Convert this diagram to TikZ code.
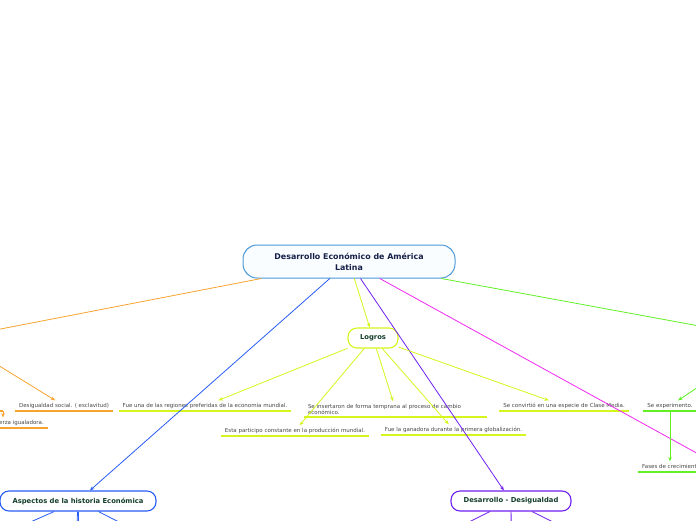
\documentclass[tikz,border=0pt]{standalone}
\usepackage{fontspec}
\setmainfont{DejaVu Sans}
\usetikzlibrary{arrows.meta,positioning}
\definecolor{naranja}{RGB}{247,163,48}
\definecolor{azul}{RGB}{40,92,245}
\definecolor{amarillo}{RGB}{214,245,28}
\definecolor{morado}{RGB}{112,32,240}
\definecolor{magenta}{RGB}{240,40,240}
\definecolor{verde}{RGB}{96,240,36}
\definecolor{azulc}{RGB}{74,152,216}
\definecolor{fondoc}{RGB}{250,253,255}
\definecolor{marino}{RGB}{22,32,72}
\definecolor{verdeosc}{RGB}{20,62,44}
\definecolor{gristxt}{RGB}{70,70,70}
\begin{document}
\begin{tikzpicture}[x=1pt, y=-1pt, >={Stealth[length=4.5pt,width=3.5pt]},
  tema/.style={draw, rounded corners=9pt, minimum height=20pt, line width=1.1pt, fill=white,
    font=\fontsize{6.8}{8}\selectfont\bfseries, text=verdeosc},
  hoja/.style={inner xsep=4pt, inner ysep=2.5pt, text height=4.1pt, text depth=1.3pt,
    font=\fontsize{5.5}{6}\selectfont, text=gristxt},
  rama/.style={line width=0.8pt},
  subr/.style={line width=2pt}]
  \useasboundingbox (0,0) rectangle (696,520);

  % nodo central
  \node[draw=azulc, fill=fondoc, line width=1pt, rounded corners=14pt, minimum width=212pt,
    minimum height=33pt, align=center, font=\fontsize{7.9}{11}\selectfont\bfseries, text=marino]
    (central) at (349,261.5) {Desarrollo Económico de América\\Latina};

  % temas principales
  \node[tema, draw=amarillo, minimum width=50pt] (logros) at (373,338) {Logros};
  \node[tema, draw=azul, minimum width=156pt] (aspectos) at (78,501) {Aspectos de la historia Económica};
  \node[tema, draw=morado, minimum width=120pt] (desdes) at (511,501) {Desarrollo - Desigualdad};

  % ramas fuera de la pagina
  \coordinate (izq) at (-46,338);
  \coordinate (der) at (770,339);
  \coordinate (mag) at (800,510);
  \coordinate (ocult) at (3,411);

  % hojas
  \node[hoja] (desig) at (64,405.8) {Desigualdad social. ( esclavitud)};
  \node[hoja, anchor=east] (fuerza) at (48,423) {Fuerza igualadora.};
  \node[hoja] (fueuna) at (205,405.8) {Fue una de las regiones preferidas de la economía mundial.};
  \node[hoja, text height=, text depth=, text width=175pt, align=left] (inserto) at (395.5,409)
    {Se insertaron de forma temprana al proceso de cambio\\económico.};
  \node[hoja] (esta) at (295,430.8) {Esta participo constante en la producción mundial.};
  \node[hoja] (ganadora) at (453.5,429.8) {Fue la ganadora durante la primera globalización.};
  \node[hoja] (convirtio) at (564,405.8) {Se convirtió en una especie de Clase Media.};
  \node[hoja] (experimento) at (670,405.8) {Se experimento.};
  \node[hoja] (fases) at (672,466.8) {Fases de crecimiento.};

  % subrayados
  \draw[subr, naranja] (desig.south west) -- (desig.south east);
  \draw[subr, naranja] (fuerza.south west) -- (fuerza.south east);
  \draw[subr, naranja] (-40,411) -- (ocult);
  \foreach \n in {fueuna, inserto, esta, ganadora, convirtio}
    \draw[subr, amarillo] (\n.south west) -- (\n.south east);
  \draw[subr, verde] (experimento.south west) -- (experimento.south east);
  \draw[subr, verde] (fases.south west) -- (fases.south east);

  % conectores del centro
  \draw[rama, naranja, ->] (central) -- (izq);
  \draw[rama, azul, ->] (central) -- (aspectos);
  \draw[rama, amarillo, ->] (central) -- (logros);
  \draw[rama, morado, ->] (central) -- (desdes);
  \draw[rama, magenta, ->] (central) -- (mag);
  \draw[rama, verde, ->] (central) -- (der);

  % conectores de Logros
  \foreach \n in {fueuna, inserto, esta, ganadora, convirtio}
    \draw[rama, amarillo, ->] (logros) -- (\n);

  % otros conectores
  \draw[rama, naranja, ->] (izq) -- (desig);
  \draw[rama, naranja, ->] (ocult) -- (ocult |- fuerza.north);
  \draw[rama, verde, ->] (der) -- (experimento);
  \draw[rama, verde, ->] (experimento.south) -- (experimento.south |- fases.north);

  % ramas hacia abajo
  \draw[rama, azul] (aspectos) -- (-8,539);
  \draw[rama, azul] (aspectos) -- (75,570);
  \draw[rama, azul] (aspectos) -- (78,570);
  \draw[rama, azul] (aspectos) -- (152,539);
  \draw[rama, morado] (desdes) -- (435,539);
  \draw[rama, morado] (desdes) -- (511.5,570);
  \draw[rama, morado] (desdes) -- (587,539);
\end{tikzpicture}
\end{document}
